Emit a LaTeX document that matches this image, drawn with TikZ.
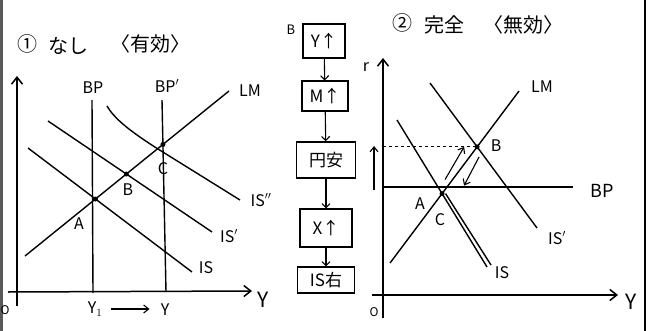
\documentclass[tikz,border=0pt]{standalone}
\usepackage{fontspec}
\setmainfont{Noto Sans CJK JP}
\usetikzlibrary{arrows.meta, positioning, calc}

\begin{document}
\begin{tikzpicture}[x=1pt, y=-1pt,
    axis/.style={line width=1.5pt, -{Straight Barb[length=7pt, width=11pt]}},
    crv/.style={line width=1.4pt},
    smarr/.style={line width=1.1pt, -{Straight Barb[length=5pt, width=8pt]}},
    dn/.style={line width=1.1pt, -{Straight Barb[length=4pt, width=8pt]}},
    lbl/.style={font=\fontsize{16}{16}\selectfont, inner sep=1pt},
    big/.style={font=\fontsize{21}{21}\selectfont, inner sep=1pt},
    ttl/.style={font=\fontsize{20}{20}\selectfont, inner sep=1pt},
    chainbox/.style={draw, line width=1.1pt, font=\fontsize{17}{17}\selectfont, inner sep=1pt},
    pt/.style={circle, fill, inner sep=0pt, minimum size=5pt}
  ]
  \useasboundingbox (0,0) rectangle (652,331);
  % paper edges
  \draw[gray!70!black, line width=3pt] (1.5,0) -- (1.5,331);
  \draw[line width=1.4pt] (645,0) -- (645,331);

  % ---- left panel
  \node[ttl] (t1a) at (27,44) {①};
  \node[ttl] (t1b) at (68,46) {なし};
  \node[ttl] (t1c) at (150,44) {〈有効〉};
  \coordinate (ly0) at (17,306); \coordinate (ly1) at (17,76);
  \coordinate (lx0) at (8,292); \coordinate (lx1) at (252,291);
  \draw[axis] (ly0) -- (ly1);
  \draw[axis] (lx0) -- (lx1);
  \node[lbl, font=\fontsize{12}{12}\selectfont] (lO) at (5,310) {O};
  \node[big] (lY) at (263,300) {Y};
  \coordinate (bp1t) at (92,100); \coordinate (bp1b) at (93,293);
  \coordinate (bp2t) at (162,100); \coordinate (bp2b) at (166,292);
  \draw[crv] (bp1t) -- (bp1b);
  \draw[crv] (bp2t) -- (bp2b);
  \node[lbl] (lbp1) at (93,88) {BP};
  \node[lbl] (lbp2) at (167,86) {BP$'$};
  \coordinate (llm0) at (25,256); \coordinate (llm1) at (229,91);
  \coordinate (lis0) at (28,148); \coordinate (lis1) at (192,272);
  \coordinate (lisa0) at (48,121); \coordinate (lisa1) at (212,232);
  \coordinate (lisb0) at (107,106); \coordinate (lisb1) at (240,200);
  \draw[crv] (llm0) -- (llm1);
  \draw[crv] (lis0) -- (lis1);
  \draw[crv] (lisa0) -- (lisa1);
  \draw[crv] (lisb0) .. controls (114,118) and (128,130) .. (158,149) -- (lisb1);
  \coordinate (lA) at (intersection of llm0--llm1 and lis0--lis1);
  \coordinate (lB) at (intersection of llm0--llm1 and lisa0--lisa1);
  \coordinate (lC) at (intersection of llm0--llm1 and bp2t--bp2b);
  \foreach \p in {lA,lB,lC} { \node[pt] at (\p) {}; }
  \node[lbl] (llmt) at (250,91) {LM};
  \node[lbl] (list) at (206,268) {IS};
  \node[lbl] (lisat) at (229,236) {IS$'$};
  \node[lbl] (lisbt) at (261,200) {IS$''$};
  \node[lbl] (lAt) at (79,224) {A};
  \node[lbl] (lBt) at (128,190) {B};
  \node[lbl] (lCt) at (163,169) {C};
  \node[lbl] (ly1t) at (95,309) {Y$_1$};
  \node[lbl] (lyt) at (165,310) {Y};
  \draw[smarr] ($(ly1t.east)+(8,0)$) coordinate (sh0) -- ($(lyt.west)+(-10,-1)$) coordinate (sh1);

  % ---- chain
  \node[lbl, font=\fontsize{13}{13}\selectfont] (cB) at (291,30) {B};
  \node[chainbox, minimum width=42pt, minimum height=34pt] (c1) at (324,41) {Y↑};
  \node[chainbox, minimum width=46pt, minimum height=30pt] (c2) at (325,96) {M↑};
  \node[chainbox, line width=1.6pt, minimum width=59pt, minimum height=36pt] (c3) at (326,160) {円安};
  \node[chainbox, minimum width=52pt, minimum height=38pt] (c4) at (326,228) {X↑};
  \node[chainbox, minimum width=57pt, minimum height=26pt] (c5) at (326,280) {IS右};
  \foreach \a/\b in {c1/c2, c2/c3, c3/c4, c4/c5} { \draw[dn] (\a) -- (\b); }

  % ---- right panel
  \node[ttl] (t2a) at (402,23) {②};
  \node[ttl] (t2b) at (444,25) {完全};
  \node[ttl] (t2c) at (523,25) {〈無効〉};
  \coordinate (ry0) at (383,318); \coordinate (ry1) at (383,58);
  \coordinate (rx0) at (372,295); \coordinate (rx1) at (618,295);
  \draw[axis] (ry0) -- (ry1);
  \draw[axis] (rx0) -- (rx1);
  \node[lbl] (rr) at (366,67) {r};
  \node[lbl, font=\fontsize{12}{12}\selectfont] (rO) at (374,312) {O};
  \node[big] (rY) at (631,302) {Y};
  \coordinate (rbp0) at (383,187); \coordinate (rbp1) at (573,187);
  \draw[crv] (rbp0) -- (rbp1);
  \node[lbl, font=\fontsize{18}{18}\selectfont] (rbpt) at (602,191) {BP};
  \coordinate (rlm0) at (390,263); \coordinate (rlm1) at (519,91);
  \coordinate (ris0) at (397,120); \coordinate (ris1) at (487,267);
  \coordinate (risa0) at (430,83); \coordinate (risa1) at (537,228);
  \draw[crv] (rlm0) -- (rlm1);
  \draw[crv] (ris0) -- (ris1);
  \draw[crv] (risa0) -- (risa1);
  \coordinate (rA) at (intersection of rlm0--rlm1 and ris0--ris1);
  \coordinate (rB) at (intersection of rlm0--rlm1 and risa0--risa1);
  \draw[crv] ($(rA)+(3.5,0)$) -- ($(ris1)+(4,-2)$);
  \foreach \p in {rA,rB} { \node[pt] at (\p) {}; }
  \draw[dashed, line width=1pt] (rB -| ry0) -- (rB);
  \coordinate (rup0) at (374,190); \coordinate (rup1) at (374,146);
  \draw[smarr] (rup0) -- (rup1);
  \draw[smarr] ($(rA)+(3,-14)$) coordinate (ra0) -- ($(rB)+(-13,0)$) coordinate (ra1);
  \draw[smarr] ($(rB)+(2,10)$) coordinate (rb0) -- ($(rA)+(22,-8)$) coordinate (rb1);
  \node[lbl] (rlmt) at (542,87) {LM};
  \node[lbl] (rist) at (502,273) {IS};
  \node[lbl] (risat) at (557,238) {IS$'$};
  \node[lbl] (rAt) at (420,204) {A};
  \node[lbl] (rCt) at (440,220) {C};
  \node[lbl] (rBt) at (496,146) {B};
\end{tikzpicture}
\end{document}
